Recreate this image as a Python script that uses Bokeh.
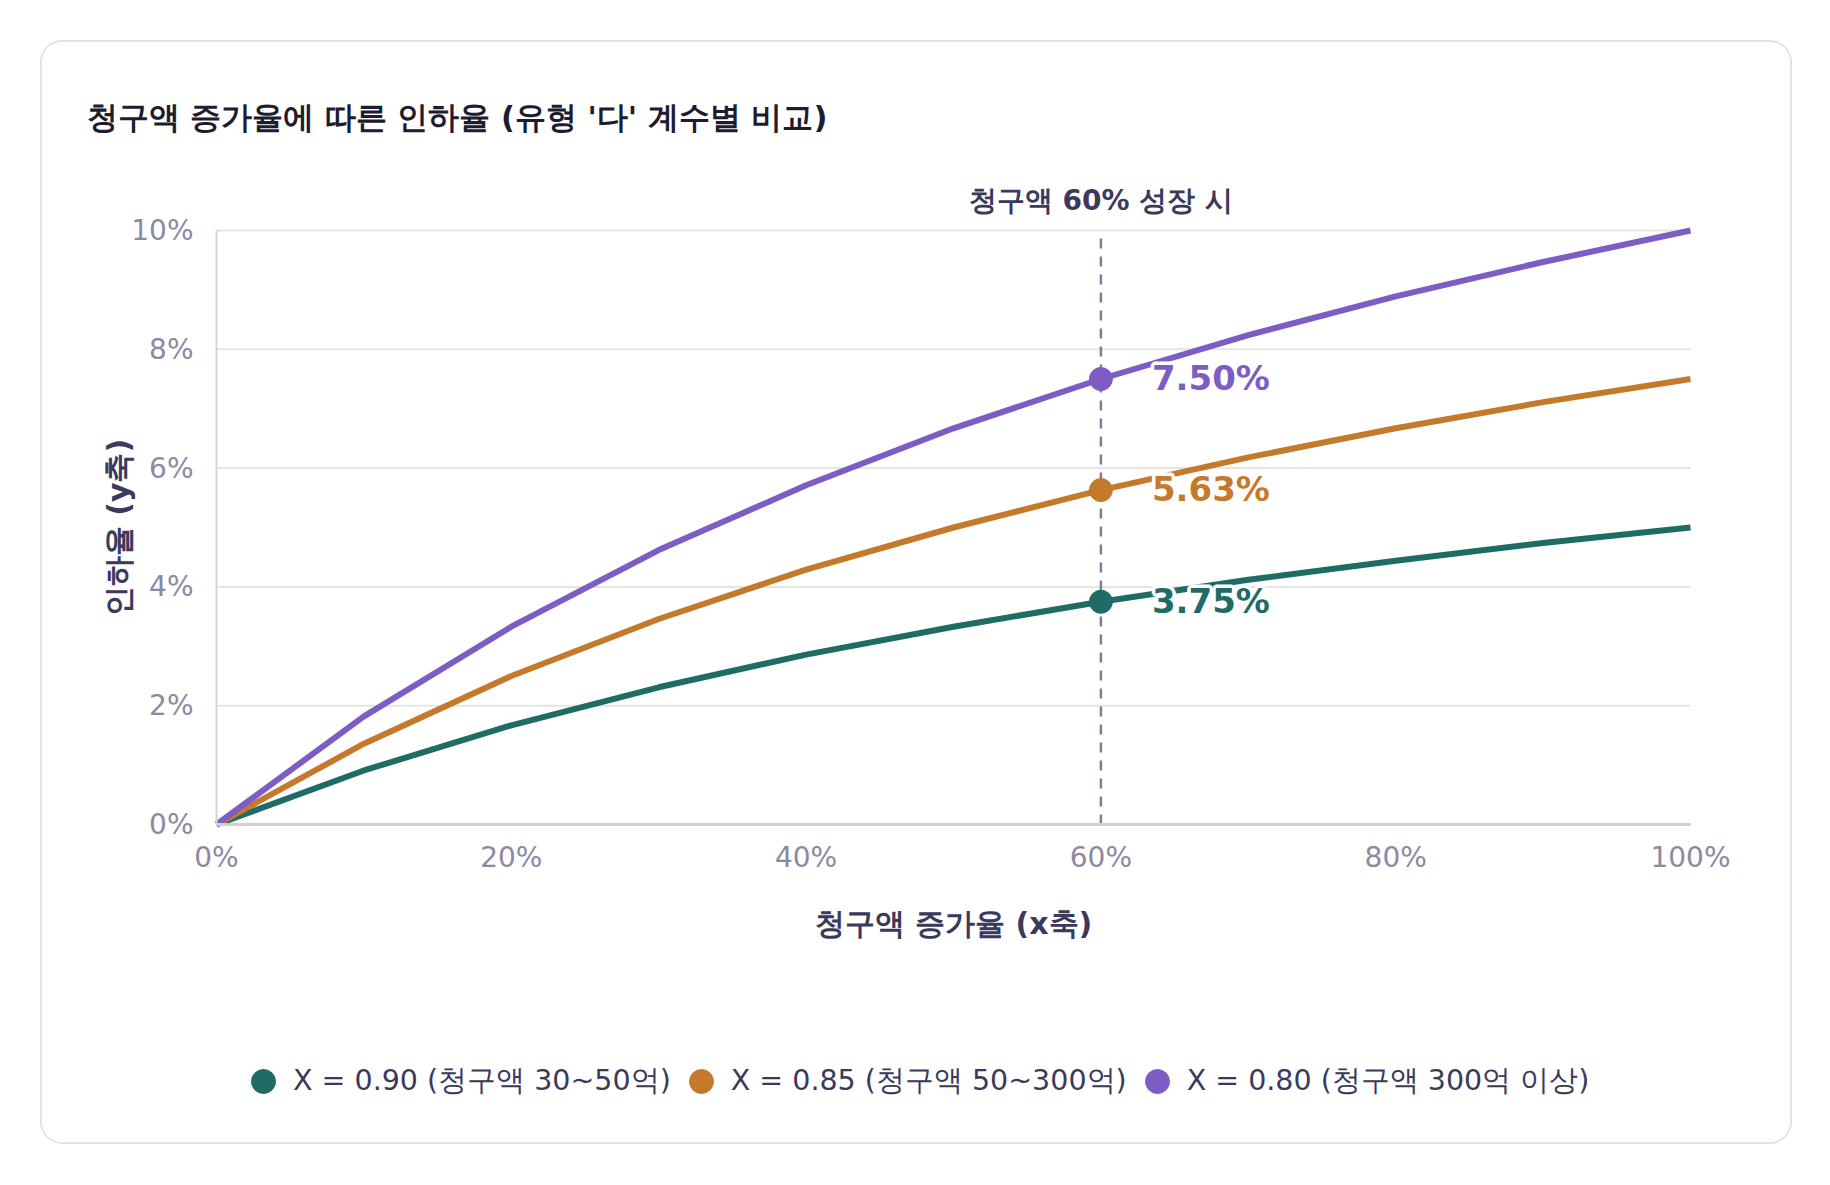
from bokeh.plotting import figure
from bokeh.models import (Range1d, FixedTicker, PrintfTickFormatter, Label,
                          Legend, LegendItem, ColumnDataSource)
from bokeh.embed import file_html
from bokeh.resources import INLINE
import math

# ---------------- data ----------------
growth = [0, 10, 20, 30, 40, 50, 60, 70, 80, 90, 100]          # 청구액 증가율 (%)
cut_090 = [0, 0.91, 1.67, 2.31, 2.86, 3.33, 3.75, 4.12, 4.44, 4.74, 5.00]
cut_085 = [0, 1.36, 2.50, 3.46, 4.29, 5.00, 5.63, 6.18, 6.67, 7.11, 7.50]
cut_080 = [0, 1.82, 3.33, 4.62, 5.71, 6.67, 7.50, 8.24, 8.89, 9.47, 10.00]
series_names = ["X = 0.90 (청구액 30~50억)", "X = 0.85 (청구액 50~300억)", "X = 0.80 (청구액 300억 이상)"]
series_colors = ["#1f6b66", "#c57a2b", "#7d5cc4"]
marker_x = 60
marker_labels = ["3.75%", "5.63%", "7.50%"]
x_ticks = [0, 20, 40, 60, 80, 100]
y_ticks = [0, 2, 4, 6, 8, 10]
x_min, x_max = 0, 100
y_min, y_max = 0, 10

title_text = "청구액 증가율에 따른 인하율 (유형 '다' 계수별 비교)"
x_label = "청구액 증가율 (x축)"
y_label = "인하율 (y축)"
marker_caption = "청구액 60% 성장 시"

FONT = "DejaVu Sans"
INK = "#3b3a5c"
TICK = "#8c89a3"

# ---------------- layout (pixels inside the card) ----------------
W, H = 1752, 1104
PL, PR, PT, PB = 174, 104, 188, 322          # plot area insets
fw, fh = W - PL - PR, H - PT - PB
xs = (x_max - x_min) / fw
ys = (y_max - y_min) / fh
x_range = Range1d(x_min - PL * xs, x_max + PR * xs)
y_range = Range1d(y_min - PB * ys, y_max + PT * ys)

p = figure(width=W, height=H, output_backend="svg", toolbar_location=None,
           x_range=x_range, y_range=y_range,
           min_border=0, x_axis_location="below", y_axis_location="left")
p.styles = {"margin": "40px 0 0 40px", "border": "2px solid #e4e3de", "border-radius": "22px",
            "overflow": "hidden"}
p.outline_line_color = None
p.background_fill_color = "white"
p.border_fill_color = "white"

# grid (horizontal lines limited to the plot area)
p.xgrid.visible = False
p.ygrid.visible = False
p.segment(x0=[x_min] * len(y_ticks), y0=y_ticks, x1=[x_max] * len(y_ticks), y1=y_ticks,
          line_color="#e6e5df", line_width=2)

# axes
for ax in (p.xaxis[0], p.yaxis[0]):
    ax.major_tick_line_color = None
    ax.minor_tick_line_color = None
    ax.major_label_text_font = FONT
    ax.major_label_text_font_size = "28px"
    ax.major_label_text_color = TICK
    ax.formatter = PrintfTickFormatter(format="%d%%")
p.xaxis.ticker = FixedTicker(ticks=x_ticks)
p.yaxis.ticker = FixedTicker(ticks=y_ticks)
p.xaxis.fixed_location = y_min
p.yaxis.fixed_location = x_min
p.xaxis.bounds = (x_min, x_max)
p.yaxis.bounds = (y_min, y_max)
p.xaxis.axis_line_color = "#d3d0c8"
p.xaxis.axis_line_width = 3
p.yaxis.axis_line_color = "#d6d4cd"
p.yaxis.axis_line_width = 2
p.xaxis.major_label_standoff = 10
p.yaxis.major_label_standoff = 17

# axis titles
p.add_layout(Label(x=(x_min + x_max) / 2, y=y_min, y_offset=-99, text=x_label, text_font=FONT,
                   text_font_size="30px", text_font_style="bold", text_color=INK,
                   text_align="center", text_baseline="middle"))
p.add_layout(Label(x=x_min, y=(y_min + y_max) / 2, x_offset=-98, text=y_label, text_font=FONT,
                   text_font_size="30px", text_font_style="bold", text_color=INK,
                   text_align="center", text_baseline="middle", angle=math.pi / 2))

# vertical marker line
p.segment(x0=[marker_x], y0=[y_min], x1=[marker_x], y1=[y_max], line_color="#817d99",
          line_width=2.5, line_dash="10 8")

series = [cut_090, cut_085, cut_080]
legend_items = []
halo = [(-3, 0), (3, 0), (0, -3), (0, 3), (-2, -2), (2, 2), (-2, 2), (2, -2)]
idx = growth.index(marker_x)
for vals, name, col, lab in zip(series, series_names, series_colors, marker_labels):
    p.line(growth, vals, line_color=col, line_width=6, line_join="round")
    src = ColumnDataSource(dict(x=[growth[idx]], y=[vals[idx]]))
    r = p.scatter("x", "y", source=src, size=23, fill_color=col, line_color=col)
    legend_items.append(LegendItem(label=name, renderers=[r]))
    for dx, dy in halo:
        p.add_layout(Label(x=growth[idx], y=vals[idx], x_offset=51 + dx, y_offset=1 + dy, text=lab,
                           text_font=FONT, text_font_size="34px", text_font_style="bold",
                           text_color="white", text_baseline="middle", text_align="left",
                           text_outline_color="white"))
    p.add_layout(Label(x=growth[idx], y=vals[idx], x_offset=51, y_offset=1, text=lab,
                       text_font=FONT, text_font_size="34px", text_font_style="bold",
                       text_color=col, text_baseline="middle", text_align="left"))

# caption above the marker line
p.add_layout(Label(x=marker_x, y=y_max, y_offset=30, text=marker_caption, text_font=FONT,
                   text_font_size="28px", text_font_style="bold", text_color=INK,
                   text_align="center", text_baseline="middle"))

# title
p.add_layout(Label(x=x_min, y=y_max, x_offset=-130, y_offset=113, text=title_text, text_font=FONT,
                   text_font_size="30.5px", text_font_style="bold", text_color="#1d1c30",
                   text_align="left", text_baseline="middle"))

legend = Legend(items=legend_items, orientation="horizontal", location=(191, 35),
                glyph_width=60, glyph_height=60, label_standoff=0, spacing=0,
                padding=0, margin=0, border_line_color=None, background_fill_alpha=0,
                label_text_font=FONT, label_text_font_size="28.5px", label_text_color=INK)
p.add_layout(legend)

open("out.html", "w").write(file_html(p, INLINE))
